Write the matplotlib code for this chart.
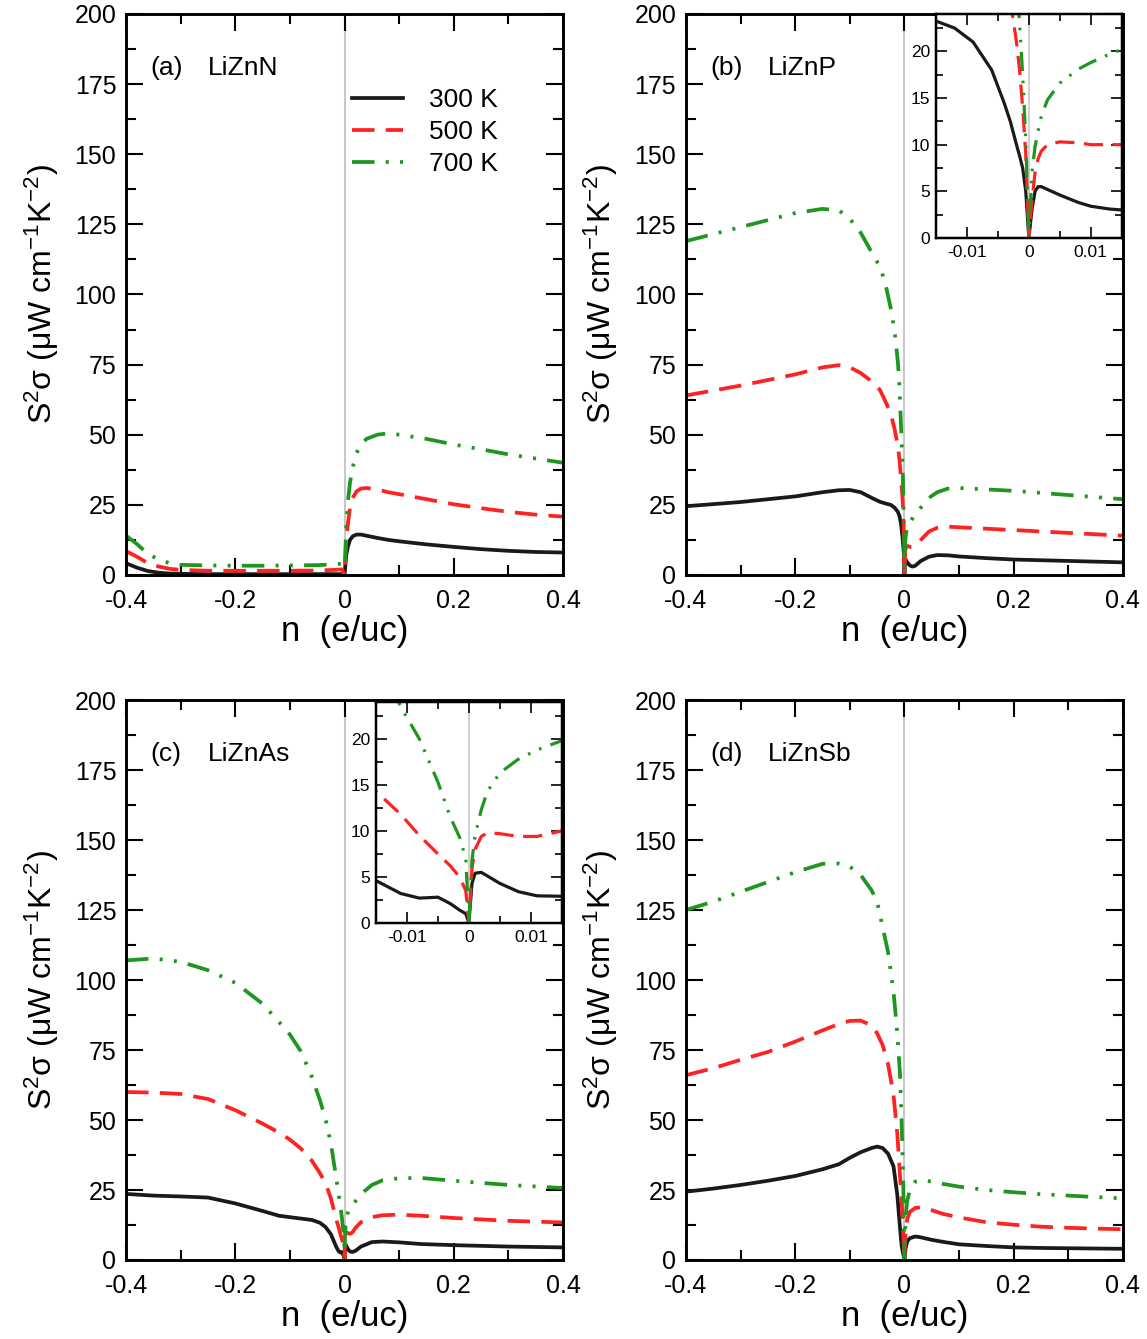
import numpy as np
import matplotlib
matplotlib.use('Agg')
import matplotlib.pyplot as plt
from matplotlib.ticker import MultipleLocator

plt.rcParams['font.family'] = ['Liberation Sans', 'DejaVu Sans']
plt.rcParams['mathtext.fontset'] = 'custom'
plt.rcParams['mathtext.rm'] = 'Liberation Sans'
plt.rcParams['mathtext.it'] = 'Liberation Sans:italic'
plt.rcParams['mathtext.default'] = 'regular'

temps = ['300 K', '500 K', '700 K']

# ---- (a) LiZnN ----
n_a = [-0.4, -0.38, -0.36, -0.34, -0.32, -0.3, -0.25, -0.2, -0.15, -0.1, -0.05, -0.02, -0.005, 0,
       0.003, 0.006, 0.01, 0.015, 0.022, 0.03, 0.04, 0.06, 0.08, 0.1, 0.15, 0.2, 0.25, 0.3, 0.35, 0.4]
a_300 = [4.2, 2.6, 1.4, 0.8, 0.5, 0.4, 0.3, 0.3, 0.3, 0.3, 0.3, 0.3, 0.3, 0,
         7, 10, 12.5, 13.8, 14.4, 14.4, 14, 13.2, 12.5, 12, 10.9, 10, 9.2, 8.6, 8.2, 8]
a_500 = [8.5, 6.5, 4.2, 3, 2.2, 1.8, 1.5, 1.5, 1.5, 1.5, 1.6, 1.8, 2, 0,
         12, 18, 24, 27.5, 29.8, 30.8, 31, 30.5, 29.5, 28.8, 27, 25.2, 23.8, 22.5, 21.5, 20.8]
a_700 = [14, 11, 7.5, 5.5, 4.2, 3.6, 3.4, 3.3, 3.3, 3.4, 3.5, 3.8, 4, 0,
         17, 26, 33, 38.5, 43.5, 46.5, 48.5, 50, 50.5, 50, 48.5, 46.5, 44.8, 43, 41.5, 40]

# ---- (b) LiZnP ----
n_b = [-0.4, -0.3, -0.25, -0.2, -0.15, -0.12, -0.1, -0.08, -0.06, -0.045, -0.035, -0.025, -0.018,
       -0.012, -0.009, -0.006, -0.004, -0.003, -0.002, -0.0015, -0.001, -0.0005, 0,
       0.0005, 0.001, 0.0015, 0.002, 0.003, 0.005, 0.008, 0.01, 0.013, 0.015, 0.02, 0.03,
       0.045, 0.06, 0.08, 0.1, 0.15, 0.2, 0.3, 0.4]
b_300 = [24.5, 26, 27, 28, 29.5, 30.2, 30.3, 29.5, 27.5, 26.1, 25.5, 25, 24,
         22.5, 21, 18, 14.5, 12.5, 10, 8.8, 7.5, 5, 0,
         3, 5, 5.5, 5.5, 5.2, 4.6, 3.8, 3.4, 3.1, 3.0, 3.3, 5,
         6.5, 7.1, 7, 6.6, 6, 5.5, 5, 4.5]
b_500 = [64, 67.5, 69.5, 71.5, 74, 74.8, 74, 72, 69, 66, 62, 57.5, 52,
         46, 41, 34, 29, 25.5, 21, 18, 14, 9, 0,
         4, 7, 8.5, 9.3, 10, 10.3, 10.2, 10, 10, 10, 10.5, 12.5,
         15.5, 16.8, 17.2, 17, 16.5, 16, 15, 14]
b_700 = [119, 124, 126.5, 129, 130.5, 130, 127, 122, 115, 110, 104, 95, 87,
         76, 67, 52, 42, 36, 28, 23, 17.5, 10.5, 0,
         7, 9.8, 11.5, 13, 14.8, 16.6, 18.1, 18.8, 19.7, 20.2, 21.5, 24,
         27.5, 29.5, 30.8, 31, 30.5, 30, 28.5, 27]

# ---- (c) LiZnAs ----
n_c = [-0.4, -0.35, -0.3, -0.25, -0.2, -0.15, -0.12, -0.1, -0.08, -0.06, -0.045, -0.035, -0.025,
       -0.015, -0.011, -0.008, -0.005, -0.003, -0.0015, -0.0005, 0,
       0.0005, 0.001, 0.002, 0.003, 0.005, 0.008, 0.011, 0.015, 0.02, 0.03, 0.05, 0.07,
       0.1, 0.14, 0.2, 0.3, 0.4]
c_300 = [23.6, 23, 22.7, 22.3, 20.2, 17.5, 15.8, 15.3, 14.8, 14.3, 13.3, 11.8, 9.2,
         4.6, 3.2, 2.7, 2.8, 2.1, 1.4, 1.0, 0,
         4.3, 5.4, 5.5, 5.1, 4.3, 3.4, 2.95, 2.9, 3.3, 4.8, 6.4, 6.6,
         6.3, 5.7, 5.3, 4.8, 4.5]
c_500 = [60, 59.8, 59.3, 57.5, 53.5, 48.7, 45.5, 43, 39.8, 35.5, 31, 27.5, 22,
         14.3, 11.8, 9.5, 7.5, 6.2, 5, 3.5, 0,
         6, 8, 9.4, 9.8, 9.7, 9.4, 9.4, 10, 11.5, 13.5, 15.3, 16,
         16.2, 15.8, 15, 14, 13.4]
c_700 = [107, 107.7, 106.5, 103.5, 99, 91.5, 85, 80.5, 74.5, 65.5, 57, 50.5, 41.5,
         29, 23.5, 20, 15.3, 11.5, 9.3, 7, 0,
         6.8, 9.5, 12.3, 14.3, 16.3, 17.8, 18.8, 19.8, 21, 23.5, 26.8, 28.5,
         29.2, 29.3, 28.3, 26.8, 25.7]

# ---- (d) LiZnSb ----
n_d = [-0.4, -0.35, -0.3, -0.25, -0.2, -0.15, -0.12, -0.1, -0.08, -0.06, -0.05, -0.04, -0.03,
       -0.02, -0.013, -0.008, -0.005, -0.002, 0, 0.002, 0.005, 0.01, 0.02, 0.03, 0.05, 0.07,
       0.1, 0.15, 0.2, 0.25, 0.3, 0.35, 0.4]
d_300 = [24.4, 25.5, 26.8, 28.3, 30, 32.4, 34.2, 36.5, 38.5, 40, 40.5, 40, 38,
         33.5, 23.2, 11.4, 5, 2, 0, 4, 6.6, 7.8, 8.4, 8.1, 7.2, 6.5,
         5.6, 5, 4.5, 4.3, 4.2, 4.1, 4]
d_500 = [66, 68.5, 71.5, 74.3, 78, 82, 84.3, 85.4, 85.5, 83.8, 81, 76.8, 70,
         59, 45, 30, 21, 9, 0, 9, 14.5, 17.2, 18.6, 18.8, 17.8, 16.5,
         15.2, 13.5, 12.6, 11.9, 11.5, 11.2, 11]
d_700 = [125, 128, 131.5, 135, 138.5, 141.5, 141.6, 140.5, 137.5, 132, 128, 119, 110,
         96, 81, 66, 48.5, 27, 0, 15, 21, 25, 28, 28.5, 28, 27.2,
         26.2, 25, 24.2, 23.5, 23, 22.5, 22]

panels = [('(a)', 'LiZnN', n_a, [a_300, a_500, a_700]),
          ('(b)', 'LiZnP', n_b, [b_300, b_500, b_700]),
          ('(c)', 'LiZnAs', n_c, [c_300, c_500, c_700]),
          ('(d)', 'LiZnSb', n_d, [d_300, d_500, d_700])]

colors = ['#1a1a1a', '#ff2222', '#1f961f']
styles = [dict(linestyle='-'),
          dict(dashes=(6, 3)),
          dict(dashes=(6, 3, 0.8, 3, 0.8, 3))]

fig = plt.figure(figsize=(11.47, 13.39), dpi=100)
W, H = 0.381, 0.419
pos = [[0.1099, 0.5706, W, H], [0.598, 0.5706, W, H],
       [0.1099, 0.0590, W, 0.4182], [0.598, 0.0590, W, 0.4182]]


def style_axis(ax, lsize, major_len, minor_len, width):
    ax.tick_params(which='both', direction='in', top=True, right=True,
                   labelsize=lsize, width=width)
    ax.tick_params(which='major', length=major_len)
    ax.tick_params(which='minor', length=minor_len)
    for s in ax.spines.values():
        s.set_linewidth(width + 0.6)


axes = []
for i, (tag, name, n, ys) in enumerate(panels):
    ax = fig.add_axes(pos[i])
    ax.axvline(0, color='#c8c8c8', lw=1.5, zorder=1)
    for y, c, st, t in zip(ys, colors, styles, temps):
        ax.plot(n, y, color=c, lw=2.7, label=t, **st)
    ax.set_xlim(-0.4, 0.4)
    ax.set_ylim(0, 200)
    ax.xaxis.set_major_locator(MultipleLocator(0.2))
    ax.xaxis.set_minor_locator(MultipleLocator(0.1))
    ax.yaxis.set_major_locator(MultipleLocator(25))
    ax.yaxis.set_minor_locator(MultipleLocator(12.5))
    ax.set_xticks([-0.4, -0.2, 0, 0.2, 0.4])
    ax.set_xticklabels(['-0.4', '-0.2', '0', '0.2', '0.4'])
    style_axis(ax, 18, 12, 7, 1.5)
    ax.tick_params(axis='x', pad=10)
    ax.tick_params(axis='y', pad=7)
    ax.set_xlabel('n  (e/uc)', fontsize=25)
    ax.xaxis.set_label_coords(0.5, -0.072)
    ax.set_ylabel(r'S$^{2}$σ (μW cm$^{-1}$K$^{-2}$)', fontsize=23)
    ax.yaxis.set_label_coords(-0.15, 0.5)
    ax.text(0.055, 0.904, tag, transform=ax.transAxes, fontsize=19, va='center')
    ax.text(0.188, 0.904, name, transform=ax.transAxes, fontsize=19, va='center')
    axes.append(ax)

axes[0].legend(loc='upper left', bbox_to_anchor=(0.518, 0.868), frameon=False,
               fontsize=19, handlelength=1.9, handletextpad=1.0,
               labelspacing=0.3, borderpad=0, borderaxespad=0)

# insets for (b) and (c)
ins_pos = {1: [0.816, 0.8223, 0.162, 0.1672], 2: [0.3278, 0.3107, 0.162, 0.165]}
for i, p in ins_pos.items():
    tag, name, n, ys = panels[i]
    ins = fig.add_axes(p)
    ins.set_facecolor('white')
    ins.axvline(0, color='#c8c8c8', lw=1.2, zorder=1)
    for y, c, st in zip(ys, colors, styles):
        ins.plot(n, y, color=c, lw=2.3, **st)
    ins.set_xlim(-0.015, 0.015)
    ins.set_ylim(0, 24)
    ins.set_xticks([-0.01, 0, 0.01])
    ins.set_xticklabels(['-0.01', '0', '0.01'])
    ins.xaxis.set_minor_locator(MultipleLocator(0.005))
    ins.yaxis.set_major_locator(MultipleLocator(5))
    ins.yaxis.set_minor_locator(MultipleLocator(2.5))
    style_axis(ins, 12.5, 8, 5, 1.2)
    ins.tick_params(axis='x', pad=5)
    ins.tick_params(axis='y', pad=4)

fig.savefig('out.png', dpi=100)
